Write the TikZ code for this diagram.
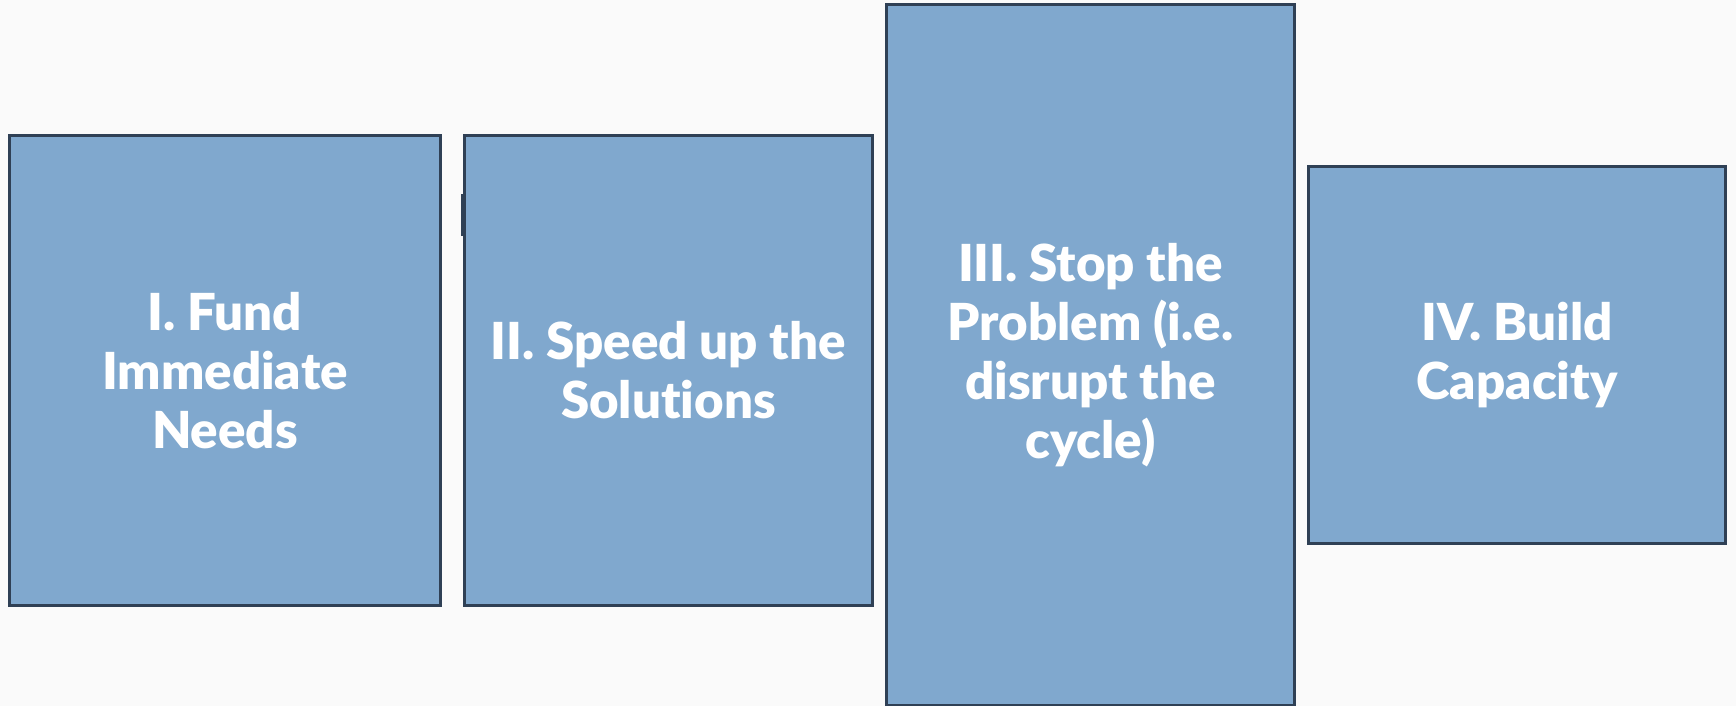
\documentclass[tikz,border=0pt]{standalone}
\usepackage{fontspec}
\setmainfont{Lato}[BoldFont={Lato Black}, Ligatures={NoCommon}]
\definecolor{pagebg}{HTML}{FAFAFA}
\definecolor{boxfill}{HTML}{80A8CE}
\definecolor{boxline}{HTML}{2F4055}
\begin{document}
\begin{tikzpicture}[x=1pt,y=-1pt,
  pillar/.style={draw=boxline, fill=boxfill, line width=3pt, rectangle,
    inner sep=0pt, outer sep=0pt, text=white, align=center,
    font=\bfseries\fontsize{51}{59}\selectfont}]
  % page
  \fill[pagebg] (0,0) rectangle (1736,706);
  \useasboundingbox (0,0) rectangle (1736,706);

  % the four pillars
  \node[pillar, minimum width=431pt, minimum height=470pt] (fund) at (225,370.5)
    {I. Fund\\Immediate\\Needs};
  \node[pillar, minimum width=408pt, minimum height=470pt] (speed) at (668.5,370.5)
    {II. Speed up the\\Solutions};
  \node[pillar, minimum width=408pt, minimum height=700.5pt] (stop) at (1090.5,354.75)
    {III. Stop the\\Problem (i.e.\\disrupt the\\cycle)};
  \node[pillar, minimum width=417pt, minimum height=376.5pt] (build) at (1517,354.75)
    {IV. Build\\Capacity};

  % short stub on the left side of the second pillar
  \coordinate (stubtop) at (462.5,194);
  \coordinate (stubbot) at (462.5,236);
  \draw[boxline, line width=3pt] (stubtop) -- (stubbot);
\end{tikzpicture}
\end{document}
